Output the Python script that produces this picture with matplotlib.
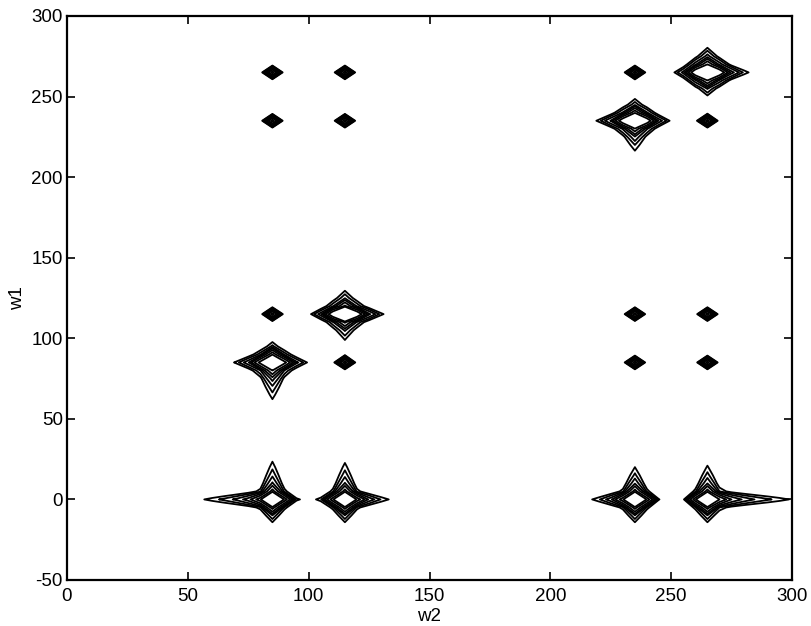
import numpy as np
import matplotlib
matplotlib.use("Agg")
import matplotlib.pyplot as plt

plt.rcParams['font.family'] = ['Liberation Sans', 'DejaVu Sans']
plt.rcParams['axes.unicode_minus'] = False

# ---- peak data ----
# centres (w2, w1) and heights: 8 strong peaks, 12 weak cross peaks
peak_w2 = [85, 115, 235, 265, 85, 115, 235, 265,
           85, 115, 85, 115, 85, 115, 235, 265, 235, 265, 235, 265]
peak_w1 = [0, 0, 0, 0, 85, 115, 235, 265,
           115, 85, 235, 235, 265, 265, 85, 85, 115, 115, 265, 235]
peak_amp = [1] * 8 + [0.34] * 12
# relative height one grid step (5 units) from the centre, per side
g5_left = [0.27, 0.27, 0.27, 0.27, 0.33, 0.40, 0.38, 0.40] + [0.03] * 12
g5_right = [0.27, 0.27, 0.27, 0.30, 0.33, 0.40, 0.38, 0.40] + [0.03] * 12
g5_down = [0.26, 0.26, 0.26, 0.26, 0.30, 0.24, 0.28, 0.30] + [0.03] * 12
g5_up = [0.26, 0.26, 0.26, 0.26, 0.28, 0.24, 0.28, 0.30] + [0.03] * 12
# reach of the outermost contour along each arm (0 = plain narrow peak)
reach_left = [31, 10.5, 18, 9, 16, 13.5, 16, 13] + [0] * 12
reach_right = [10, 18.5, 10, 38, 14, 16, 14, 17] + [0] * 12
reach_down = [14, 14, 14, 14, 24, 16, 19, 14] + [0] * 12
reach_up = [25, 24, 21, 22, 12, 14.5, 13, 15.5] + [0] * 12

lev_lo, lev_hi, n_lev = 0.06, 0.30, 7
levels = np.geomspace(lev_lo, lev_hi, n_lev)

# sampled on a coarse 5-unit grid, like the original spectrum
step = 5.0
w2 = np.arange(0, 301, step)
w1 = np.arange(-50, 301, step)
X, Y = np.meshgrid(w2, w1)


def side_params(g5, reach):
    """width w and power p of (1+(d/w)^2)^-p hitting g5 at one step and lev_lo at reach"""
    if reach <= 0:
        return step / np.sqrt(1 / g5 - 1), 1.0
    r = np.log(lev_lo) / np.log(g5)
    lo, hi = -6.0, 8.0
    for _ in range(80):
        mid = 0.5 * (lo + hi)
        w = np.exp(mid)
        f = np.log1p((reach / w) ** 2) / np.log1p((step / w) ** 2)
        if f < r:
            lo = mid
        else:
            hi = mid
    w = np.exp(0.5 * (lo + hi))
    p = -np.log(g5) / np.log1p((step / w) ** 2)
    return w, p


def side(d, g5, reach):
    w, p = side_params(g5, reach)
    val = (1 + (d / w) ** 2) ** (-p)
    if reach > 0:
        val = val * np.exp(-(np.abs(d) / (reach + 12)) ** 6)
    return val


def profile(d, g_neg, r_neg, g_pos, r_pos):
    return np.where(d < 0, side(d, g_neg, r_neg), side(d, g_pos, r_pos))


Z = np.zeros_like(X)
for i in range(len(peak_w2)):
    gx = profile(X - peak_w2[i], g5_left[i], reach_left[i], g5_right[i], reach_right[i])
    gy = profile(Y - peak_w1[i], g5_down[i], reach_down[i], g5_up[i], reach_up[i])
    Z += peak_amp[i] * gx * gy

fig = plt.figure(figsize=(8.12, 6.26), dpi=100)
ax = fig.add_axes([67 / 812, 46 / 626, 725 / 812, 564 / 626])
ax.contour(X, Y, Z, levels=levels, colors='black', linewidths=1.3)

ax.set_xlim(0, 300)
ax.set_ylim(-50, 300)
ax.set_xticks(np.arange(0, 301, 50))
ax.set_yticks(np.arange(-50, 301, 50))
ax.tick_params(direction='in', length=6, width=1.2, top=True, right=True,
               labelsize=13.5)
ax.tick_params(axis='x', pad=6)
ax.tick_params(axis='y', pad=3)
for s in ax.spines.values():
    s.set_linewidth(1.6)
ax.set_xlabel('w2', fontsize=13.5, labelpad=2)
ax.set_ylabel('w1', fontsize=13.5, labelpad=4)

fig.savefig('out.png', dpi=100)
